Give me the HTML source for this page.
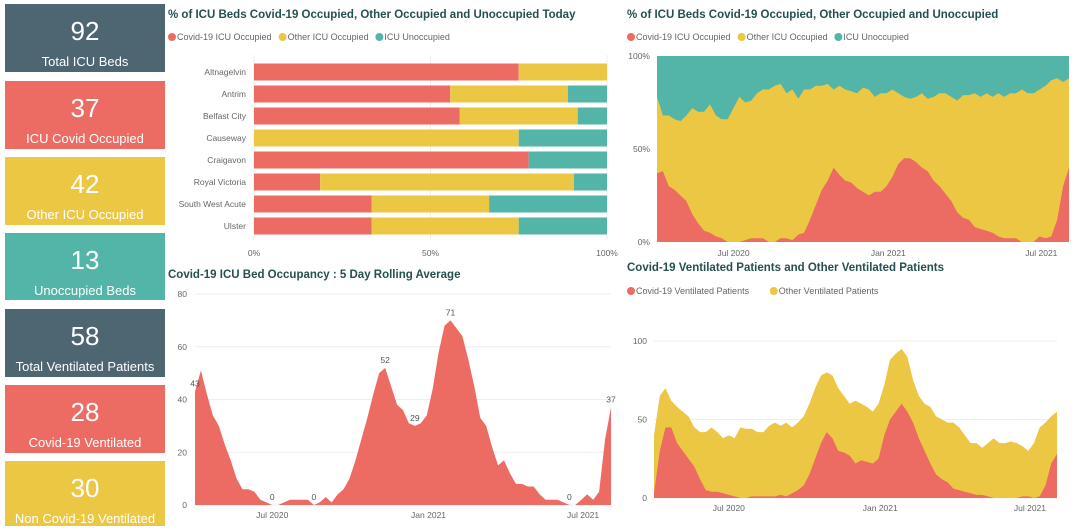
<!DOCTYPE html>
<html><head><meta charset="utf-8"><style>
body{margin:0;background:#fff;width:1080px;height:526px;overflow:hidden;font-family:"Liberation Sans",sans-serif}
svg text{font-family:"Liberation Sans",sans-serif}
</style></head><body>
<svg id="s" width="1080" height="526" viewBox="0 0 1080 526" xmlns="http://www.w3.org/2000/svg">
<g>
<rect x="5" y="4" width="160" height="68" fill="#4d6672"/>
<text x="85" y="40" fill="#fff" font-size="26" text-anchor="middle">92</text><text x="85" y="66" fill="#fff" font-size="13" text-anchor="middle">Total ICU Beds</text>
<rect x="5" y="81" width="160" height="68" fill="#ec6b63"/>
<text x="85" y="117" fill="#fff" font-size="26" text-anchor="middle">37</text><text x="85" y="143" fill="#fff" font-size="13" text-anchor="middle">ICU Covid Occupied</text>
<rect x="5" y="157" width="160" height="68" fill="#ebc744"/>
<text x="85" y="193" fill="#fff" font-size="26" text-anchor="middle">42</text><text x="85" y="219" fill="#fff" font-size="13" text-anchor="middle">Other ICU Occupied</text>
<rect x="5" y="233" width="160" height="67" fill="#52b5a8"/>
<text x="85" y="269" fill="#fff" font-size="26" text-anchor="middle">13</text><text x="85" y="295" fill="#fff" font-size="13" text-anchor="middle">Unoccupied Beds</text>
<rect x="5" y="309" width="160" height="68" fill="#4d6672"/>
<text x="85" y="345" fill="#fff" font-size="26" text-anchor="middle">58</text><text x="85" y="371" fill="#fff" font-size="13" text-anchor="middle">Total Ventilated Patients</text>
<rect x="5" y="385" width="160" height="68" fill="#ec6b63"/>
<text x="85" y="421" fill="#fff" font-size="26" text-anchor="middle">28</text><text x="85" y="447" fill="#fff" font-size="13" text-anchor="middle">Covid-19 Ventilated</text>
<rect x="5" y="461" width="160" height="70" fill="#ebc744"/>
<text x="85" y="497" fill="#fff" font-size="26" text-anchor="middle">30</text><text x="85" y="523" fill="#fff" font-size="13" text-anchor="middle">Non Covid-19 Ventilated</text>
</g>
<g id="c1"></g>
<g id="c2"></g>
<g id="c3"></g>
<g id="c4"></g>
</svg>
<script>
const hospitals=["Altnagelvin","Antrim","Belfast City","Causeway","Craigavon","Royal Victoria","South West Acute","Ulster"];
const covidPct=[75,55.6,58.3,0,77.8,18.75,33.3,33.3];
const otherPct=[25,33.3,33.4,75,0,71.9,33.3,41.7];
const unoccPct=[0,11.1,8.3,25,22.2,9.35,33.4,25];
const pctTicks=["0%","50%","100%"];
const occCovid=[37,38,30,28,25,22,15,10,6,5,3,2,0,0,0,1,2,2,2,0,0,2,2,1,4,5,12,20,28,33,40,36,33,32,29,27,25,27,27,30,35,42,45,45,43,40,38,33,30,26,22,16,13,12,8,7,6,5,3,2,2,2,0,0,0,3,2,3,12,30,40];
const occOther=[41,30,38,38,40,46,57,60,64,69,65,64,66,72,78,74,74,78,80,82,84,83,78,81,73,77,70,64,56,52,42,48,49,49,51,56,57,51,53,50,47,38,33,32,35,40,39,45,50,54,56,60,66,67,72,71,74,73,77,76,78,78,82,80,80,79,82,84,76,56,48];
const rollAvg=[43,51,42,34,30,23,17,10,6,6,5,2,1,0,0,1,2,2,2,2,0,1,3,1,4,6,10,17,25,33,42,50,52,45,38,36,31,30,31,34,44,58,68,70,67,64,55,45,33,30,22,15,17,12,8,8,7,7,4,2,2,2,1,0,0,2,4,2,5,25,37];
const rollLabels=[[0,"43"],[13,"0"],[20,"0"],[32,"52"],[37,"29"],[43,"71"],[63,"0"],[70,"37"]];
const ventCovid=[3,30,45,45,35,30,25,20,12,5,4,4,3,2,1,0,0,1,1,1,1,1,2,1,3,5,8,15,25,35,42,38,30,29,27,22,24,23,22,25,40,50,55,60,55,48,38,30,22,15,12,10,6,5,4,3,2,2,1,0,0,0,0,0,1,1,0,1,8,22,28];
const ventOther=[37,35,25,17,23,25,27,25,30,37,41,38,35,38,37,45,44,43,41,41,45,47,44,47,42,43,44,45,45,43,38,40,40,36,33,40,36,35,33,35,32,38,37,35,35,27,27,30,36,37,38,38,42,40,36,32,33,30,34,38,35,35,36,35,32,29,35,44,40,30,27];
const dateTicks=["Jul 2020","Jan 2021","Jul 2021"];
const tickWeeks=[13,39.3,65.3];
const rollTicks=[0,20,40,60,80];
const ventTicks=[0,50,100];
const RED="#ec6b63",YEL="#ebc744",TEAL="#52b5a8",TITLE="#24504f",GRAY="#666";
const NS="http://www.w3.org/2000/svg";
function mk(p,tag,a,txt){const e=document.createElementNS(NS,tag);for(const k in a)e.setAttribute(k,a[k]);if(txt!=null)e.textContent=txt;p.appendChild(e);return e;}
function legend(g,x,y,items){let cx=x;items.forEach(it=>{
 const c=mk(g,"circle",{cx:cx+4,cy:y-3,r:4,fill:it[1]});
 
 
 const t=mk(g,"text",{x:cx+9,y:y,"font-size":9,fill:GRAY},it[0]);
 
 
 cx+=9+it[0].length*4.6+5;});}
function title(g,x,y,s){const t=mk(g,"text",{x:x,y:y,"font-size":11.5,"font-weight":"bold",fill:TITLE},s);
 
 }
function area(g,xs,lo,hi,fill,name){let d="";for(let i=0;i<xs.length;i++)d+=(i?"L":"M")+xs[i].toFixed(1)+","+hi[i].toFixed(1);
 for(let i=xs.length-1;i>=0;i--)d+="L"+xs[i].toFixed(1)+","+lo[i].toFixed(1);
 const p=mk(g,"path",{d:d+"Z",fill:fill});
 
 }
// chart 1
(function(){const g=document.getElementById("c1");title(g,168,18,"% of ICU Beds Covid-19 Occupied, Other Occupied and Unoccupied Today");
 legend(g,168,40,[["Covid-19 ICU Occupied",RED],["Other ICU Occupied",YEL],["ICU Unoccupied",TEAL]]);
 const x0=254,x1=607,X=v=>x0+(x1-x0)*v/100,Y=i=>72+i*22;
 [0,50,100].forEach((v,i)=>{mk(g,"line",{x1:X(v),x2:X(v),y1:55,y2:240,stroke:"#eee"});
  const t=mk(g,"text",{x:X(v),y:256,"font-size":8.5,fill:GRAY,"text-anchor":"middle"},pctTicks[i]);
  
  });
 hospitals.forEach((h,i)=>{const y=Y(i)-8.5;
  const l=mk(g,"text",{x:246,y:Y(i)+3,"font-size":8.5,fill:GRAY,"text-anchor":"end"},h);
  
  
  let a=0;[[covidPct,RED],[otherPct,YEL],[unoccPct,TEAL]].forEach(s=>{const v=s[0][i];if(v>0){
   const r=mk(g,"rect",{x:X(a),y:y,width:X(a+v)-X(a),height:17,fill:s[1]});
   
   }a+=v;});});})();
// chart 2
(function(){const g=document.getElementById("c2");title(g,627,18,"% of ICU Beds Covid-19 Occupied, Other Occupied and Unoccupied");
 legend(g,627,40,[["Covid-19 ICU Occupied",RED],["Other ICU Occupied",YEL],["ICU Unoccupied",TEAL]]);
 const x0=657,x1=1069,y0=242,y1=56,n=occCovid.length,X=i=>x0+(x1-x0)*i/(n-1),Y=v=>y0-(y0-y1)*v/100;
 const bg=mk(g,"rect",{x:x0,y:y1,width:x1-x0,height:y0-y1,fill:TEAL});
 
 
 const xs=occCovid.map((v,i)=>X(i)),base=occCovid.map(()=>y0);
 area(g,xs,base,occCovid.map((v,i)=>Y(v+occOther[i])),YEL,"other-occupied-area");
 area(g,xs,base,occCovid.map(v=>Y(v)),RED,"covid-occupied-area");
 [0,50,100].forEach((v,i)=>{const t=mk(g,"text",{x:650,y:Y(v)+3,"font-size":8.5,fill:GRAY,"text-anchor":"end"},["0%","50%","100%"][i]);
  
  });
 dateTicks.forEach((d,i)=>{const t=mk(g,"text",{x:X(tickWeeks[i]),y:256,"font-size":8.5,fill:GRAY,"text-anchor":"middle"},d);
  
  });})();
// chart 3
(function(){const g=document.getElementById("c3");title(g,168,278,"Covid-19 ICU Bed Occupancy : 5 Day Rolling Average");
 const x0=195,x1=611,y0=505,y1=294,n=rollAvg.length,X=i=>x0+(x1-x0)*i/(n-1),Y=v=>y0-(y0-y1)*v/80;
 rollTicks.forEach(v=>{mk(g,"line",{x1:x0,x2:x1,y1:Y(v),y2:Y(v),stroke:"#eee"});
  const t=mk(g,"text",{x:187,y:Y(v)+3,"font-size":8.5,fill:GRAY,"text-anchor":"end"},String(v));
  
  });
 area(g,rollAvg.map((v,i)=>X(i)),rollAvg.map(()=>y0),rollAvg.map(v=>Y(v)),RED,"rolling-average-area");
 rollLabels.forEach(l=>{const t=mk(g,"text",{x:X(l[0]),y:Y(rollAvg[l[0]])-5,"font-size":8.5,fill:"#555","text-anchor":"middle"},l[1]);
  
  });
 dateTicks.forEach((d,i)=>{const t=mk(g,"text",{x:X(tickWeeks[i]),y:518,"font-size":8.5,fill:GRAY,"text-anchor":"middle"},d);
  
  });})();
// chart 4
(function(){const g=document.getElementById("c4");title(g,627,271,"Covid-19 Ventilated Patients and Other Ventilated Patients");
 legend(g,627,294,[["Covid-19 Ventilated Patients",RED],["Other Ventilated Patients",YEL]]);
 const x0=654,x1=1057,y0=498,y1=341,n=ventCovid.length,X=i=>x0+(x1-x0)*i/(n-1),Y=v=>y0-(y0-y1)*v/100;
 ventTicks.forEach(v=>{mk(g,"line",{x1:x0,x2:x1,y1:Y(v),y2:Y(v),stroke:"#eee"});
  const t=mk(g,"text",{x:647,y:Y(v)+3,"font-size":8.5,fill:GRAY,"text-anchor":"end"},String(v));
  
  });
 const xs=ventCovid.map((v,i)=>X(i)),base=ventCovid.map(()=>y0);
 area(g,xs,base,ventCovid.map((v,i)=>Y(v+ventOther[i])),YEL,"other-ventilated-area");
 area(g,xs,base,ventCovid.map(v=>Y(v)),RED,"covid-ventilated-area");
 dateTicks.forEach((d,i)=>{const t=mk(g,"text",{x:X(tickWeeks[i]),y:511,"font-size":8.5,fill:GRAY,"text-anchor":"middle"},d);
  
  });})();
</script>
</body></html>
